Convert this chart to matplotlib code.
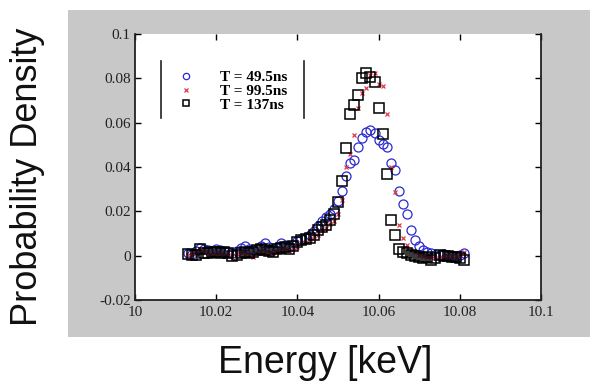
import matplotlib
matplotlib.use("Agg")
import matplotlib.pyplot as plt
from matplotlib.patches import Rectangle
from matplotlib.lines import Line2D

energy = [10.013, 10.014, 10.015, 10.016, 10.017, 10.018, 10.019, 10.020, 10.021, 10.022,
          10.023, 10.024, 10.025, 10.026, 10.027, 10.028, 10.029, 10.030, 10.031, 10.032,
          10.033, 10.034, 10.035, 10.036, 10.037, 10.038, 10.039, 10.040, 10.041, 10.042,
          10.043, 10.044, 10.045, 10.046, 10.047, 10.048, 10.049, 10.050, 10.051, 10.052,
          10.053, 10.054, 10.055, 10.056, 10.057, 10.058, 10.059, 10.060, 10.061, 10.062,
          10.063, 10.064, 10.065, 10.066, 10.067, 10.068, 10.069, 10.070, 10.071, 10.072,
          10.073, 10.074, 10.075, 10.076, 10.077, 10.078, 10.079, 10.080, 10.081]

p_49 = [0.0010, 0.0008, 0.0020, 0.0035, 0.0030, 0.0025, 0.0020, 0.0030, 0.0025, 0.0020,
        0.0015, 0.0010, 0.0020, 0.0035, 0.0045, 0.0030, 0.0025, 0.0030, 0.0045, 0.0055,
        0.0040, 0.0030, 0.0040, 0.0055, 0.0050, 0.0040, 0.0050, 0.0065, 0.0075, 0.0080,
        0.0095, 0.0110, 0.0135, 0.0155, 0.0175, 0.0190, 0.0210, 0.0245, 0.0290, 0.0360,
        0.0420, 0.0430, 0.0490, 0.0530, 0.0560, 0.0565, 0.0555, 0.0520, 0.0505, 0.0490,
        0.0420, 0.0385, 0.0290, 0.0235, 0.0190, 0.0115, 0.0070, 0.0045, 0.0025, 0.0015,
        0.0010, 0.0005, 0.0003, 0.0008, 0.0002, 0.0000, -0.0003, 0.0005, 0.0012]

p_99 = [0.0005, 0.0002, 0.0010, 0.0025, 0.0015, 0.0010, 0.0005, 0.0008, 0.0012, 0.0005,
        0.0002, 0.0000, 0.0008, 0.0015, 0.0008, 0.0003, -0.0005, 0.0010, 0.0020, 0.0018,
        0.0010, 0.0012, 0.0020, 0.0025, 0.0028, 0.0020, 0.0030, 0.0040, 0.0055, 0.0060,
        0.0075, 0.0090, 0.0095, 0.0115, 0.0125, 0.0145, 0.0155, 0.0190, 0.0250, 0.0400,
        0.0460, 0.0545, 0.0665, 0.0735, 0.0755, 0.0815, 0.0825, 0.0775, 0.0765, 0.0640,
        0.0400, 0.0285, 0.0138, 0.0078, 0.0050, 0.0025, 0.0015, 0.0005, 0.0000, -0.0005,
        -0.0008, -0.0012, -0.0005, 0.0000, -0.0003, -0.0002, 0.0000, 0.0005, 0.0015]

p_137 = [0.0008, 0.0005, 0.0003, 0.0030, 0.0012, 0.0010, 0.0015, 0.0015, 0.0012, 0.0018,
         0.0010, 0.0000, 0.0005, 0.0012, 0.0015, 0.0012, 0.0018, 0.0025, 0.0030, 0.0025,
         0.0020, 0.0018, 0.0030, 0.0035, 0.0040, 0.0030, 0.0045, 0.0060, 0.0070, 0.0075,
         0.0080, 0.0095, 0.0115, 0.0130, 0.0140, 0.0160, 0.0190, 0.0240, 0.0335, 0.0485,
         0.0640, 0.0680, 0.0725, 0.0800, 0.0825, 0.0805, 0.0785, 0.0665, 0.0550, 0.0370,
         0.0160, 0.0095, 0.0030, 0.0015, 0.0010, 0.0005, 0.0000, -0.0008, -0.0010, -0.0005,
         -0.0018, -0.0010, 0.0005, 0.0000, -0.0002, -0.0005, -0.0008, -0.0012, -0.0018]

series_labels = ["T = 49.5ns", "T = 99.5ns", "T = 137ns"]
x_ticks = [10.0, 10.02, 10.04, 10.06, 10.08, 10.1]
x_tick_labels = ["10", "10.02", "10.04", "10.06", "10.08", "10.1"]
y_ticks = [-0.02, 0.0, 0.02, 0.04, 0.06, 0.08, 0.1]
y_tick_labels = ["-0.02", "0", "0.02", "0.04", "0.06", "0.08", "0.1"]

W, H = 590, 383
fig = plt.figure(figsize=(W / 100, H / 100), dpi=100)
fig.patch.set_facecolor("white")

# gray panel behind the axes
fig.patches.append(Rectangle((68 / W, 1 - 337 / H), 1 - 68 / W, (337 - 10) / H,
                             transform=fig.transFigure, facecolor="#c8c8c8",
                             edgecolor="none", zorder=-10))

ax = fig.add_axes([135 / W, 1 - 300 / H, 406 / W, 266 / H], zorder=5)
ax.set_facecolor("white")

h1, = ax.plot(energy, p_49, linestyle="none", marker="o", markersize=6.5,
              markerfacecolor="none", markeredgecolor="#2a2ad0", markeredgewidth=0.9)
h2, = ax.plot(energy, p_99, linestyle="none", marker="x", markersize=3.5,
              color="#e03a4a", markeredgewidth=0.9)
h3, = ax.plot(energy, p_137, linestyle="none", marker="s", markersize=7,
              markerfacecolor="none", markeredgecolor="black", markeredgewidth=1.1)

ax.set_xlim(10.0, 10.1)
ax.set_ylim(-0.02, 0.1)
ax.set_xticks(x_ticks, x_tick_labels)
ax.set_yticks(y_ticks, y_tick_labels)
ax.tick_params(direction="in", length=4, width=1, top=True, right=True,
               labelsize=11, labelcolor="#222222")
ax.tick_params(axis="x", pad=4)
ax.tick_params(axis="y", pad=3)
for lab in ax.get_xticklabels() + ax.get_yticklabels():
    lab.set_family(["Liberation Serif", "DejaVu Serif"])

for side in ["left", "bottom", "right"]:
    ax.spines[side].set_color("#222222")
    ax.spines[side].set_linewidth(1.3)
ax.spines["top"].set_visible(False)

leg = ax.legend([h1, h2, h3], series_labels, loc="upper left",
                bbox_to_anchor=(0.108, 0.862), frameon=False, borderpad=0,
                borderaxespad=0, handlelength=1.0, handletextpad=1.7,
                labelspacing=0.0, markerscale=0.7,
                prop={"family": ["Liberation Serif", "DejaVu Serif"],
                      "weight": "bold", "size": 11})

for xf in (0.064, 0.416):
    ax.add_line(Line2D([xf, xf], [0.684, 0.898], transform=ax.transAxes,
                       color="#222222", linewidth=1.2))

fig.text(325 / W, 1 - 363 / H, "Energy [keV]", ha="center", va="center",
         fontsize=27, family=["Liberation Sans", "DejaVu Sans"], color="#111111")
fig.text(28 / W, 1 - 177 / H, "Probability Density", ha="center", va="center",
         rotation=90, fontsize=26, family=["Liberation Sans", "DejaVu Sans"],
         color="#111111")

fig.savefig("out.png", dpi=100)
